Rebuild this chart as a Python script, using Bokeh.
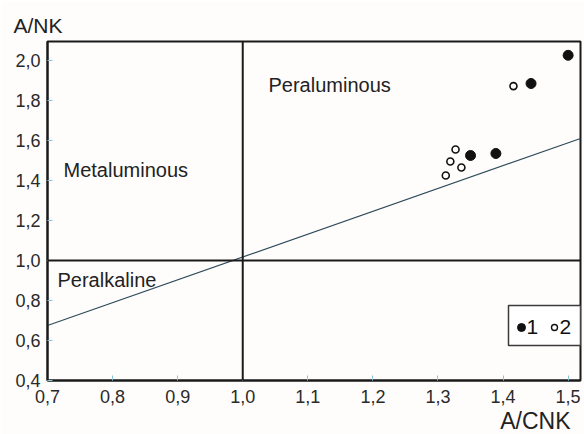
from bokeh.plotting import figure
from bokeh.models import (Range1d, FixedTicker, CustomJSTickFormatter, Span, Label, Title)
from bokeh.embed import file_html
from bokeh.resources import INLINE

# --- data -------------------------------------------------------------
# group 1 (filled symbols)
acnk_1 = [1.350, 1.389, 1.443, 1.500]
ank_1 = [1.525, 1.535, 1.885, 2.026]
# group 2 (open symbols)
acnk_2 = [1.312, 1.319, 1.327, 1.336, 1.416]
ank_2 = [1.425, 1.495, 1.555, 1.465, 1.872]

# dividing line between the peraluminous and lower fields
div_x = [0.70, 1.519]
div_y = [0.675, 1.61]

x_ticks = [0.7, 0.8, 0.9, 1.0, 1.1, 1.2, 1.3, 1.4, 1.5]
y_ticks = [0.4, 0.6, 0.8, 1.0, 1.2, 1.4, 1.6, 1.8, 2.0]

legend_labels = ["1", "2"]

# --- layout ------------------------------------------------------------
W, H = 584, 434
FL, FR, FT, FB = 47, 580, 41, 380  # frame edges on the canvas
X0, X1 = 0.7, 1.519
Y0, Y1 = 0.4, 2.095


def dx(px):
    return X0 + (px - FL) * (X1 - X0) / (FR - FL)


def dy(py):
    return Y0 + (FB - py) * (Y1 - Y0) / (FB - FT)


FONT = "Liberation Sans"

p = figure(width=W, height=H, output_backend="svg", toolbar_location=None,
           x_range=Range1d(X0, X1), y_range=Range1d(Y0, Y1),
           min_border_left=FL, min_border_right=W - FR,
           min_border_top=FT, min_border_bottom=H - FB)

p.background_fill_color = "#fffdfc"
p.border_fill_color = "#fffdfc"
p.outline_line_color = "#1a1a1a"
p.outline_line_width = 2
p.grid.visible = False

# axis titles
p.title.text = "A/NK"
p.title.align = "left"
p.title.offset = -34
p.title.text_font = FONT
p.title.text_font_size = "21px"
p.title.text_font_style = "normal"
p.title.text_color = "#222222"
p.title.standoff = 10
p.add_layout(Title(text="A/CNK", align="right", offset=10, standoff=0,
                   text_font=FONT, text_font_size="23px", text_font_style="normal",
                   text_color="#222222", text_line_height=1.0), "below")

fmt = CustomJSTickFormatter(code="return tick.toFixed(1).replace('.', ',');")
for ax, ticks in ((p.xaxis[0], x_ticks), (p.yaxis[0], y_ticks)):
    ax.ticker = FixedTicker(ticks=ticks)
    ax.formatter = fmt
    ax.minor_tick_line_color = None
    ax.major_tick_in = 5
    ax.major_tick_out = 0
    ax.major_tick_line_color = "#8cc4dc"
    ax.major_tick_line_width = 1
    ax.axis_line_color = "#1a1a1a"
    ax.axis_line_width = 2
    ax.major_label_text_font = FONT
    ax.major_label_text_font_size = "18px"
    ax.major_label_text_color = "#2a2a2a"
p.xaxis[0].major_label_standoff = 9
p.yaxis[0].major_label_standoff = 7

# field boundaries
p.add_layout(Span(location=1.0, dimension="height", line_color="#1a1a1a", line_width=2))
p.add_layout(Span(location=1.0, dimension="width", line_color="#1a1a1a", line_width=2))
p.line(div_x, div_y, line_color="#2d4b5a", line_width=1.2)

# samples
p.scatter(acnk_2, ank_2, size=7, fill_color="white", line_color="#111111", line_width=1.6)
p.scatter(acnk_1, ank_1, size=10, fill_color="#111111", line_color="#111111")

# field names
for txt, px, py in (("Peraluminous", 268, 84), ("Metaluminous", 63, 169),
                    ("Peralkaline", 57, 279)):
    p.add_layout(Label(x=dx(px), y=dy(py), text=txt, text_font=FONT,
                       text_font_size="20px", text_color="#222222",
                       text_baseline="alphabetic"))

# legend box
p.quad(left=dx(508), right=dx(580), bottom=dy(345), top=dy(305),
       fill_color="white", line_color="#3a3a3a", line_width=1.5)
p.scatter([dx(521)], [dy(327)], size=8, fill_color="#111111", line_color="#111111")
p.scatter([dx(554)], [dy(327)], size=6, fill_color="white", line_color="#111111",
          line_width=1.4)
p.add_layout(Label(x=dx(526), y=dy(326), text=legend_labels[0], text_font=FONT,
                   text_font_size="21px", text_color="#111111", text_baseline="alphabetic"))
p.add_layout(Label(x=dx(559), y=dy(326), text=legend_labels[1], text_font=FONT,
                   text_font_size="21px", text_color="#111111", text_baseline="alphabetic"))

open("out.html", "w").write(file_html(p, INLINE))
